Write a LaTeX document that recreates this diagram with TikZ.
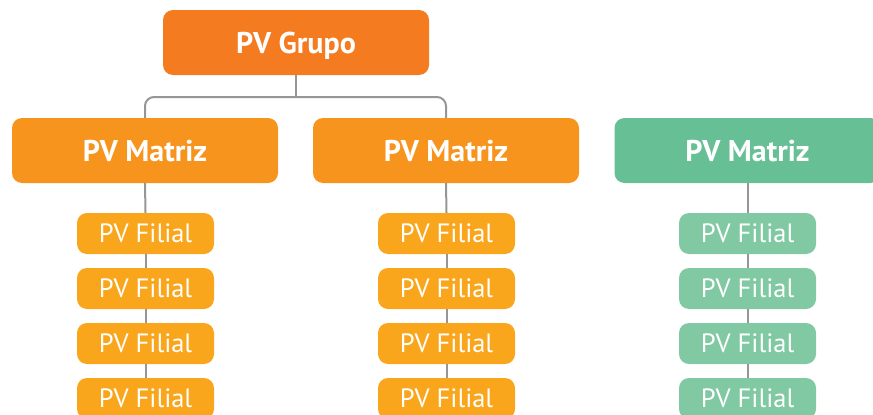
\documentclass[tikz,border=0pt]{standalone}
\usepackage{fontspec}
\setmainfont{PT Sans}
\usepackage{tikz}
\usetikzlibrary{positioning}
\definecolor{grupoColor}{RGB}{244,123,32}
\definecolor{matrizColor}{RGB}{247,148,30}
\definecolor{filialColor}{RGB}{249,166,28}
\definecolor{matrizGreen}{RGB}{103,192,149}
\definecolor{filialGreen}{RGB}{128,201,162}
\definecolor{lineColor}{RGB}{150,150,150}
\tikzstyle{orgChart} = [x = 1pt, y = -1pt]
\tikzstyle{boxStyle} = [rounded corners = 10pt, text = white, inner sep = 0pt, text depth = 0pt]
\tikzstyle{topBox} = [boxStyle, fill = grupoColor, minimum width = 266pt, minimum height = 65pt, text height = 21pt, font = \fontsize{30}{30}\selectfont\bfseries]
\tikzstyle{matrizBox} = [boxStyle, fill = matrizColor, minimum width = 266pt, minimum height = 65pt, text height = 21pt, font = \fontsize{30}{30}\selectfont\bfseries]
\tikzstyle{filialBox} = [boxStyle, fill = filialColor, minimum width = 137pt, minimum height = 41pt, text height = 18.5pt, font = \fontsize{26.5}{26.5}\selectfont]
\tikzstyle{connLine} = [color = lineColor, line width = 2pt]
\newcommand{\filialColumn}[3]{
  \foreach \row/\ypos in {1/233.5, 2/288.5, 3/343.5, 4/398.5} {
    \node [filialBox, #3] (f#1\row) at (#2, \ypos) {PV Filial};
  }
  \draw [connLine] (m#1.south) -- (f#11.north);
  \draw [connLine] (f#11.south) -- (f#12.north);
  \draw [connLine] (f#12.south) -- (f#13.north);
  \draw [connLine] (f#13.south) -- (f#14.north);
}

\begin{document}
\begin{tikzpicture}[orgChart]
  \clip (0, 0) rectangle (873, 415);
  \useasboundingbox (0, 0) rectangle (873, 415);

  \node [topBox] (grupo) at (296, 42.5) {PV Grupo};
  \node [matrizBox] (m1) at (145, 150.5) {PV Matriz};
  \node [matrizBox] (m2) at (446, 150.5) {PV Matriz};
  \node [matrizBox, fill = matrizGreen] (m3) at (747.5, 150.5) {PV Matriz};

  \coordinate (split) at (296, 97);
  \draw [connLine] (grupo.south) -- (split);
  \draw [connLine, rounded corners = 9pt] (split) -| (m1.north);
  \draw [connLine, rounded corners = 9pt] (split) -| (m2.north);

  \filialColumn{1}{145.5}{}
  \filialColumn{2}{446.5}{}
  \filialColumn{3}{747.5}{fill = filialGreen}
\end{tikzpicture}
\end{document}
